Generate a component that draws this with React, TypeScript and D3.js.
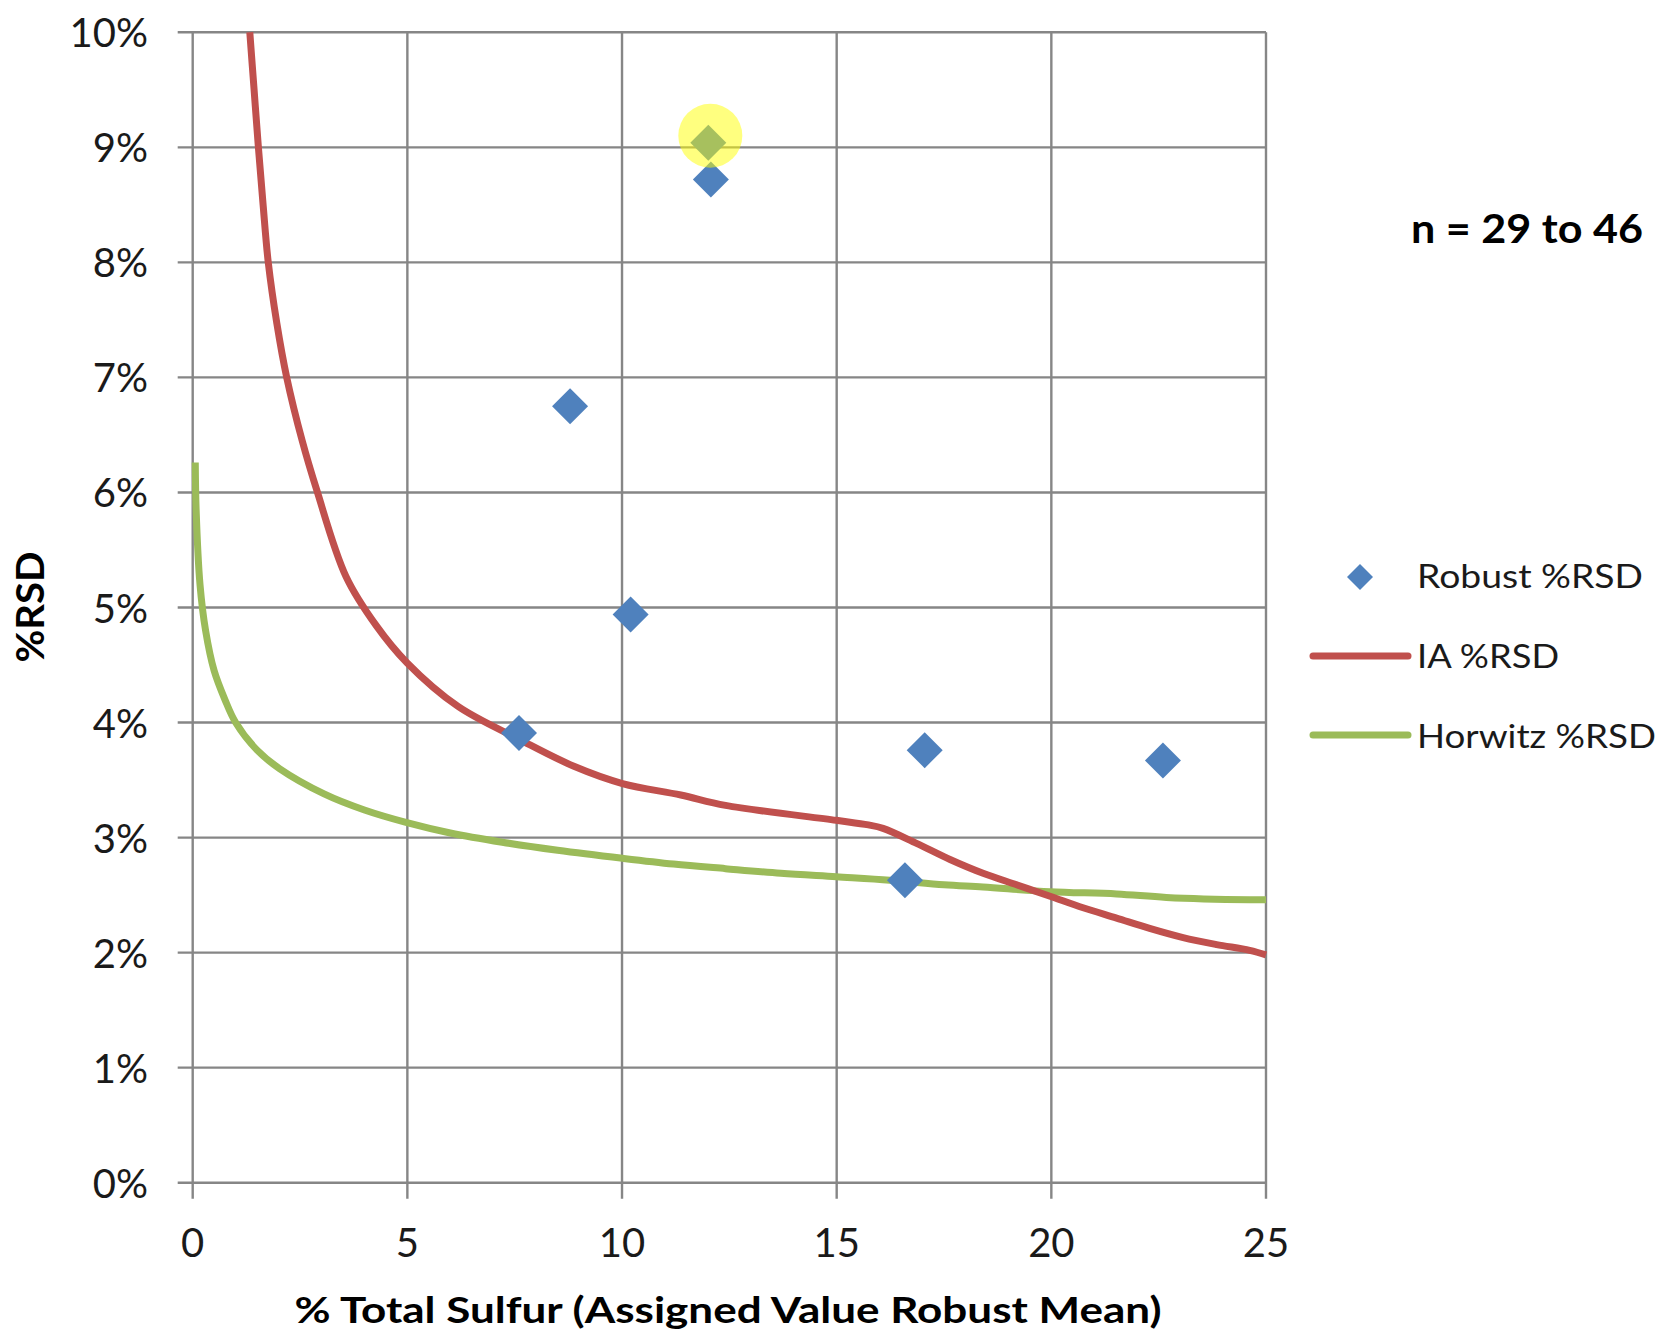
import React from "react";
import * as d3 from "d3";

// ---- Data ----
const xTicks = [0, 5, 10, 15, 20, 25];
const yTicks = [0, 0.01, 0.02, 0.03, 0.04, 0.05, 0.06, 0.07, 0.08, 0.09, 0.1];

// Robust %RSD points (x = % total sulfur, y = RSD fraction)
const robustX = [7.6, 8.79, 10.2, 12.01, 12.07, 16.59, 17.05, 22.6];
const robustY = [0.0391, 0.0675, 0.0494, 0.0904, 0.0872, 0.0263, 0.0376, 0.0367];
const highlightIndex = 3;

// IA %RSD curve
const iaX = [1.33, 1.43, 1.53, 1.64, 1.76, 1.96, 2.19, 2.55, 2.89, 3.57, 4.28, 4.99, 6.18, 7.63, 8.88, 10.01, 11.37, 12.41, 14.99, 15.74, 16.08, 16.86, 17.64, 18.41, 19.19, 19.97, 20.74, 21.52, 22.29, 23.07, 23.85, 24.62, 25.0];
const iaY = [0.1, 0.095, 0.09, 0.085, 0.08, 0.0747, 0.07, 0.0645, 0.0602, 0.0527, 0.0484, 0.0452, 0.0414, 0.0385, 0.0362, 0.0347, 0.0337, 0.0328, 0.0315, 0.0311, 0.0308, 0.0295, 0.0281, 0.0269, 0.0259, 0.0249, 0.0239, 0.023, 0.0221, 0.0213, 0.0207, 0.0202, 0.0198];

// Horwitz %RSD curve
const hzX = [0.06, 0.08, 0.17, 0.3, 0.5, 0.75, 1.0, 1.5, 2.02, 3.06, 4.0, 4.99, 6.0, 7.21, 8.5, 10.01, 11.2, 12.41, 13.7, 14.99, 16.24, 17.5, 18.41, 19.97, 21.52, 22.68, 24.62, 25.0];
const hzY = [0.0626, 0.0585, 0.052, 0.048, 0.0445, 0.042, 0.04, 0.0376, 0.036, 0.0338, 0.0324, 0.0313, 0.0304, 0.0296, 0.0289, 0.0282, 0.0277, 0.0273, 0.0269, 0.0266, 0.0263, 0.0259, 0.0257, 0.0253, 0.0251, 0.0248, 0.0246, 0.0246];

const legendLabels = ["Robust %RSD", "IA %RSD", "Horwitz %RSD"];
const noteText = "n = 29 to 46";
const xTitle = "% Total Sulfur (Assigned Value Robust Mean)";
const yTitle = "%RSD";

const BLUE = "#4F81BD";
const RED = "#C0504D";
const GREEN = "#9BBB59";
const GRID = "#868686";
const FONT = "Lato, 'Open Sans', sans-serif";

function diamond(cx: number, cy: number, r: number) {
  return `M${cx},${cy - r}L${cx + r},${cy}L${cx},${cy + r}L${cx - r},${cy}Z`;
}

export default function App() {
  const W = 1660;
  const H = 1333;
  const x = d3.scaleLinear().domain([0, 25]).range([192.7, 1266]);
  const y = d3.scaleLinear().domain([0, 0.1]).range([1182.7, 32.3]);

  const line = d3
    .line<[number, number]>()
    .x((d) => x(d[0]))
    .y((d) => y(d[1]))
    .curve(d3.curveCatmullRom.alpha(0.5));

  const iaPts: [number, number][] = iaX.map((v, i) => [v, iaY[i]]);
  const hzPts: [number, number][] = hzX.map((v, i) => [v, hzY[i]]);

  const x0 = x(0);
  const x1 = x(25);
  const yTop = y(0.1);
  const yBot = y(0);

  return (
    <svg
      width={W}
      height={H}
      style={{ position: "absolute", left: 0, top: 0, background: "#fff" }}
      fontFamily={FONT}
    >
      <rect x={0} y={0} width={W} height={H} fill="#fff" />
      {/* horizontal gridlines + y ticks */}
      {yTicks.map((t) => (
        <line key={"h" + t} x1={x0 - 15} x2={x1} y1={y(t)} y2={y(t)} stroke={GRID} strokeWidth={2.4} />
      ))}
      {/* vertical gridlines + x ticks */}
      {xTicks.map((t) => (
        <line key={"v" + t} x1={x(t)} x2={x(t)} y1={yTop} y2={yBot + 16} stroke={GRID} strokeWidth={2.4} />
      ))}
      {/* y tick labels */}
      {yTicks.map((t) => (
        <text
          key={"yl" + t}
          x={148}
          y={y(t)}
          textAnchor="end"
          dominantBaseline="central"
          fontSize={40}
          fill="#1a1a1a"
        >
          {d3.format(".0%")(t)}
        </text>
      ))}
      {/* x tick labels */}
      {xTicks.map((t) => (
        <text key={"xl" + t} x={x(t)} y={1257} textAnchor="middle" fontSize={40} fill="#1a1a1a">
          {t}
        </text>
      ))}
      {/* axis titles */}
      <text
        x={728}
        y={1323}
        textAnchor="middle"
        fontSize={37}
        fontWeight="bold"
        fill="#000"
        textLength={867}
        lengthAdjust="spacingAndGlyphs"
      >
        {xTitle}
      </text>
      <text
        transform="translate(44,607) rotate(-90)"
        textAnchor="middle"
        fontSize={39}
        fontWeight="bold"
        fill="#000"
        textLength={111}
        lengthAdjust="spacingAndGlyphs"
      >
        {yTitle}
      </text>

      {/* curves */}
      <path d={line(hzPts) || ""} fill="none" stroke={GREEN} strokeWidth={7} strokeLinejoin="round" />
      <path d={line(iaPts) || ""} fill="none" stroke={RED} strokeWidth={7} strokeLinejoin="round" />

      {/* robust points */}
      {robustX.map((v, i) => (
        <path key={"p" + i} d={diamond(x(v), y(robustY[i]), 18)} fill={BLUE} />
      ))}
      {/* highlight */}
      <circle
        cx={x(robustX[highlightIndex]) + 2}
        cy={y(robustY[highlightIndex]) - 7}
        r={32}
        fill="#ffff00"
        fillOpacity={0.5}
      />

      {/* note */}
      <text
        x={1411}
        y={243}
        fontSize={40}
        fontWeight="bold"
        fill="#000"
        textLength={232}
        lengthAdjust="spacingAndGlyphs"
      >
        {noteText}
      </text>

      {/* legend */}
      <path d={diamond(1360, 577, 13)} fill={BLUE} />
      <text x={1417} y={588} fontSize={33} fill="#1a1a1a" textLength={226} lengthAdjust="spacingAndGlyphs">
        {legendLabels[0]}
      </text>
      <line x1={1313} x2={1408} y1={656} y2={656} stroke={RED} strokeWidth={7} strokeLinecap="round" />
      <text x={1417} y={668} fontSize={33} fill="#1a1a1a" textLength={142} lengthAdjust="spacingAndGlyphs">
        {legendLabels[1]}
      </text>
      <line x1={1313} x2={1408} y1={735} y2={735} stroke={GREEN} strokeWidth={7} strokeLinecap="round" />
      <text x={1417} y={748} fontSize={33} fill="#1a1a1a" textLength={239} lengthAdjust="spacingAndGlyphs">
        {legendLabels[2]}
      </text>
    </svg>
  );
}
